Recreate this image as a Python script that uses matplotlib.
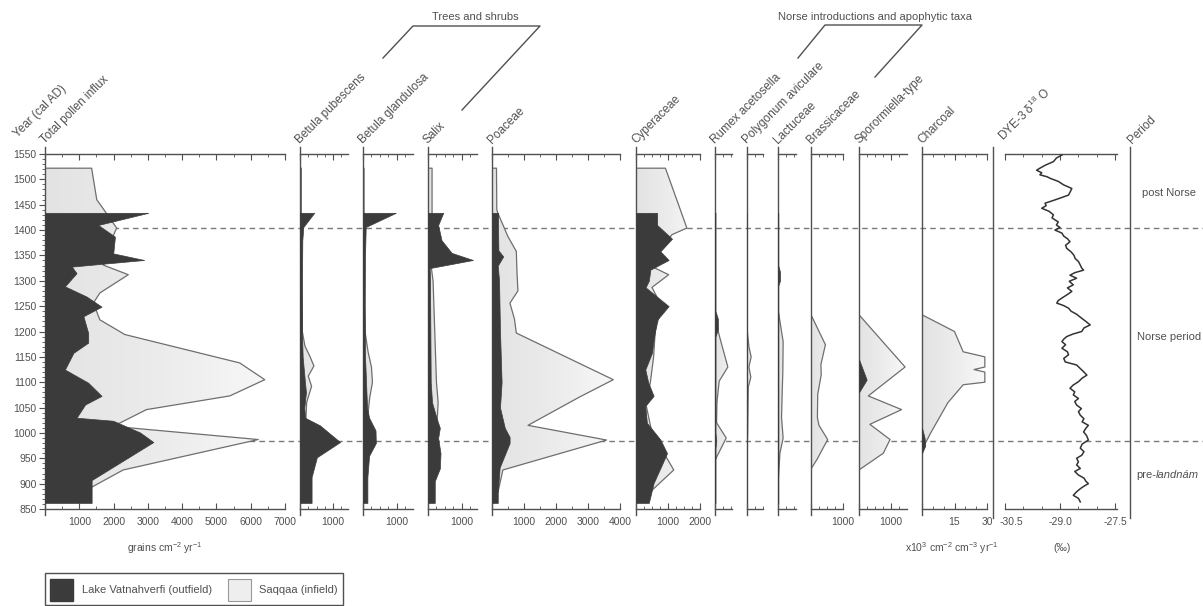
import numpy as np
import matplotlib
matplotlib.use("Agg")
import matplotlib.pyplot as plt
import matplotlib.transforms as mtransforms
from matplotlib.colors import LinearSegmentedColormap
from matplotlib.patches import Rectangle

plt.rcParams['font.family'] = ['Liberation Sans', 'DejaVu Sans']
plt.rcParams['mathtext.fontset'] = 'custom'
plt.rcParams['mathtext.rm'] = 'Liberation Sans'
plt.rcParams['mathtext.it'] = 'Liberation Sans:italic'

# Lake Vatnahverfi (outfield) = vat, Saqqaa (infield) = saq
total_vat_yr = [1434, 1410, 1387, 1354, 1341, 1328, 1315, 1289, 1269, 1249, 1230, 1197,
                1178, 1158, 1125, 1099, 1073, 1056, 1030, 1024, 1001, 982, 907, 862]
total_vat = [3010, 1550, 2040, 1990, 2890, 780, 920, 580, 1210, 1650, 1120, 1260,
             1260, 830, 580, 1260, 1650, 1170, 920, 1990, 2770, 3160, 1360, 1360]
total_saq_yr = [1522, 1460, 1437, 1404, 1381, 1354, 1331, 1312, 1276, 1256, 1223, 1194,
                1138, 1105, 1073, 1046, 1013, 987, 927, 893]
total_saq = [1360, 1510, 1750, 2090, 1940, 1940, 1700, 2430, 1600, 1410, 1600, 2330,
             5680, 6410, 5390, 2960, 1990, 6220, 2280, 1360]

bpub_vat_yr = [1434, 1406, 1380, 1300, 1200, 1150, 1100, 1080, 1050, 1030, 1015, 982, 952, 913, 862]
bpub_vat = [430, 100, 70, 60, 60, 80, 150, 180, 130, 150, 600, 1210, 510, 350, 350]
bpub_saq_yr = [1522, 1440, 1400, 1300, 1200, 1171, 1151, 1132, 1112, 1092, 1060, 1030, 990, 950, 900, 885]
bpub_saq = [40, 40, 40, 50, 70, 150, 300, 420, 250, 350, 200, 180, 150, 120, 100, 80]

bgla_vat_yr = [1434, 1406, 1350, 1250, 1150, 1100, 1050, 1030, 1005, 980, 955, 913, 862]
bgla_vat = [970, 80, 60, 50, 60, 90, 120, 180, 370, 380, 180, 130, 130]
bgla_saq_yr = [1522, 1440, 1300, 1200, 1160, 1130, 1100, 1070, 1040, 950, 885]
bgla_saq = [30, 30, 40, 60, 150, 250, 280, 200, 150, 100, 80]

salix_vat_yr = [1434, 1410, 1380, 1355, 1341, 1325, 1300, 1200, 1100, 1060, 1030, 1010,
                990, 960, 930, 905, 862]
salix_vat = [450, 300, 400, 700, 1330, 50, 60, 70, 80, 120, 250, 350, 300, 370, 350, 200, 200]
salix_saq_yr = [1522, 1434, 1400, 1325, 1300, 1200, 1100, 1060, 1000, 950, 885]
salix_saq = [120, 120, 120, 100, 150, 200, 250, 300, 250, 200, 150]

poa_vat_yr = [1434, 1400, 1360, 1348, 1330, 1300, 1200, 1100, 1050, 1010, 992, 980, 932, 883, 862]
poa_vat = [190, 190, 200, 350, 180, 220, 250, 300, 250, 400, 550, 550, 240, 180, 180]
poa_saq_yr = [1522, 1440, 1434, 1387, 1358, 1318, 1280, 1256, 1225, 1197, 1105, 1071,
              1015, 986, 927, 884]
poa_saq = [140, 150, 180, 500, 760, 780, 810, 560, 700, 760, 3790, 2740, 1125, 3580, 340, 190]

cyp_vat_yr = [1434, 1410, 1383, 1358, 1341, 1322, 1300, 1287, 1250, 1223, 1184, 1158,
              1125, 1100, 1073, 1053, 1020, 987, 960, 901, 862]
cyp_vat = [660, 660, 1125, 760, 1020, 450, 400, 300, 1020, 660, 550, 500,
           290, 380, 550, 290, 340, 760, 970, 550, 400]
cyp_saq_yr = [1522, 1404, 1391, 1331, 1312, 1287, 1250, 1200, 1150, 1125, 1100, 1060,
              1000, 927, 887]
cyp_saq = [920, 1590, 1125, 400, 1020, 500, 800, 600, 550, 500, 450, 300, 500, 1180, 500]

rum_vat_yr = [1434, 1240, 1225, 1205, 1190, 1000, 985, 970, 862]
rum_vat = [15, 15, 90, 90, 15, 15, 40, 15, 15]
rum_saq_yr = [1522, 1235, 1195, 1130, 1102, 1060, 1020, 990, 946]
rum_saq = [10, 10, 120, 400, 130, 60, 50, 350, 0]

pol_vat_yr = [1434, 862]
pol_vat = [10, 10]
pol_saq_yr = [1522, 1200, 1170, 1150, 1130, 1110, 1090, 1000, 960]
pol_saq = [10, 10, 60, 130, 60, 120, 40, 20, 0]

lac_vat_yr = [1434, 1330, 1318, 1300, 1290, 862]
lac_vat = [10, 10, 60, 60, 10, 10]
lac_saq_yr = [1522, 1240, 1180, 1120, 1080, 1030, 990, 960, 900]
lac_saq = [10, 10, 160, 150, 130, 110, 160, 60, 0]

bra_saq_yr = [1233, 1174, 1135, 1115, 1076, 1030, 1015, 987, 948, 929]
bra_saq = [0, 450, 310, 320, 210, 200, 250, 520, 190, 0]

spo_vat_yr = [1145, 1105, 1080]
spo_vat = [0, 240, 0]
spo_saq_yr = [1233, 1130, 1073, 1046, 1017, 987, 960, 927]
spo_saq = [0, 1440, 290, 1330, 340, 970, 760, 0]

cha_vat_yr = [1010, 990, 975, 960]
cha_vat = [0, 1.2, 1.5, 0]
cha_saq_yr = [1233, 1200, 1160, 1150, 1130, 1125, 1120, 1100, 1095, 1060, 1000, 975, 965]
cha_saq = [0, 15, 19, 29, 29, 24, 29, 29, 19, 12, 4, 1, 0]

dye_yr = [1548, 1542, 1535, 1528, 1522, 1518, 1513, 1509, 1505, 1502, 1496, 1489,
          1482, 1476, 1469, 1463, 1458, 1453, 1448, 1443, 1437, 1430, 1424, 1416,
          1410, 1405, 1400, 1394, 1388, 1383, 1377, 1370, 1364, 1357, 1350, 1344,
          1338, 1331, 1325, 1321, 1316, 1311, 1305, 1299, 1292, 1286, 1279, 1272,
          1266, 1261, 1256, 1251, 1246, 1240, 1234, 1226, 1220, 1213, 1207, 1200,
          1195, 1190, 1185, 1180, 1174, 1167, 1160, 1154, 1147, 1140, 1134, 1127,
          1120, 1114, 1108, 1101, 1094, 1088, 1081, 1075, 1068, 1062, 1055, 1048,
          1042, 1035, 1028, 1022, 1015, 1009, 1002, 995, 986, 978, 970, 963,
          956, 950, 943, 937, 930, 924, 917, 911, 905, 900, 895, 890,
          884, 877, 871, 864]
dye = [-28.95, -29.10, -29.18, -29.40, -29.55, -29.64, -29.50, -29.55, -29.35, -29.27, -29.05, -28.90,
       -28.68, -28.72, -28.77, -29.00, -29.20, -29.41, -29.38, -29.50, -29.30, -29.18, -29.22, -29.05,
       -29.10, -29.00, -29.14, -28.95, -28.90, -28.80, -28.73, -28.85, -28.82, -28.70, -28.62, -28.59,
       -28.50, -28.45, -28.41, -28.36, -28.60, -28.73, -28.55, -28.75, -28.64, -28.80, -28.68, -28.82,
       -28.95, -29.05, -29.09, -28.90, -28.77, -28.70, -28.55, -28.41, -28.30, -28.18, -28.35, -28.41,
       -28.65, -28.82, -28.90, -28.95, -28.85, -28.95, -28.80, -28.77, -28.90, -28.86, -28.55, -28.45,
       -28.35, -28.27, -28.40, -28.50, -28.65, -28.73, -28.60, -28.64, -28.50, -28.60, -28.55, -28.42,
       -28.50, -28.45, -28.35, -28.40, -28.23, -28.30, -28.36, -28.28, -28.23, -28.40, -28.45, -28.35,
       -28.41, -28.55, -28.50, -28.55, -28.45, -28.60, -28.50, -28.35, -28.30, -28.23, -28.35, -28.45,
       -28.55, -28.64, -28.50, -28.45]

year_ticks = list(range(850, 1551, 50))
zone_lines = [1405, 985]

INK = '#505050'
DARK = '#3b3b3b'
EDGE = '#6e6e6e'
W, H = 1203, 606
Y_BOT, Y_TOP = 838, 1563
PX_TOP, PX_BOT = 147.4, 515.1

fig = plt.figure(figsize=(W / 100, H / 100), dpi=100)
cmap = LinearSegmentedColormap.from_list('saq', ['#e3e3e3', '#ececec', '#f9f9f9'])
grad = np.linspace(0, 1, 256).reshape(1, -1)

def px_axes(left, right):
    return fig.add_axes([left / W, (H - PX_BOT) / H, (right - left) / W, (PX_BOT - PX_TOP) / H])

# dashed zone lines behind everything
bg = px_axes(0, W)
bg.set_zorder(-1)
bg.set_xlim(0, W)
bg.set_ylim(Y_BOT, Y_TOP)
bg.axis('off')
bg.hlines(zone_lines, 45, W, colors='#7a7a7a', linestyles=(0, (4, 3)), lw=1)

def panel(left, right, xmin, xmax, vat, saq, major, labels, minor, first=False):
    ax = px_axes(left, right)
    ax.set_facecolor('none')
    if saq is not None:
        poly = ax.fill_betweenx(saq[0], 0, saq[1], facecolor='none', edgecolor=EDGE, lw=0.9, zorder=2)
        im = ax.imshow(grad, extent=[0, xmax, Y_BOT, Y_TOP], aspect='auto', cmap=cmap, zorder=1)
        im.set_clip_path(poly.get_paths()[0], transform=ax.transData)
    if vat is not None:
        ax.fill_betweenx(vat[0], 0, vat[1], facecolor=DARK, edgecolor=DARK, lw=0.5, zorder=3)
    ax.set_xlim(xmin, xmax)
    ax.set_ylim(Y_BOT, Y_TOP)
    ax.spines['top'].set_position(('data', 1550))
    ax.spines['bottom'].set_position(('data', 850))
    ax.spines['right'].set_visible(False)
    for s in ['top', 'bottom', 'left']:
        ax.spines[s].set_color(INK)
        ax.spines[s].set_linewidth(1)
    ax.set_xticks(major)
    ax.set_xticklabels(labels)
    ax.set_xticks(minor, minor=True)
    ax.tick_params(axis='x', which='both', direction='in', top=True, bottom=True,
                   colors=INK, labelsize=7.5, pad=6)
    ax.tick_params(axis='x', which='major', length=4)
    ax.tick_params(axis='x', which='minor', length=2.5)
    if first:
        ax.set_yticks(year_ticks)
        ax.set_yticklabels([str(y) for y in year_ticks])
        ax.set_yticks(range(850, 1551, 10), minor=True)
        ax.tick_params(axis='y', which='both', direction='out', colors=INK, labelsize=7.5, pad=2)
        ax.tick_params(axis='y', which='major', length=4)
        ax.tick_params(axis='y', which='minor', length=2)
    else:
        ax.set_yticks([])
    return ax

panel(45, 285, 0, 7000, (total_vat_yr, total_vat), (total_saq_yr, total_saq),
      range(0, 7001, 1000), [''] + [str(v) for v in range(1000, 7001, 1000)],
      range(500, 7000, 1000), first=True)
panel(300, 348, 0, 1450, (bpub_vat_yr, bpub_vat), (bpub_saq_yr, bpub_saq),
      [0, 1000], ['', '1000'], [250, 500, 750, 1250])
panel(363, 413, 0, 1480, (bgla_vat_yr, bgla_vat), (bgla_saq_yr, bgla_saq),
      [0, 1000], ['', '1000'], [250, 500, 750, 1250])
panel(428, 477, 0, 1450, (salix_vat_yr, salix_vat), (salix_saq_yr, salix_saq),
      [0, 1000], ['', '1000'], [250, 500, 750, 1250])
panel(492, 620, 0, 4000, (poa_vat_yr, poa_vat), (poa_saq_yr, poa_saq),
      range(0, 4001, 1000), ['', '1000', '2000', '3000', '4000'], range(500, 4000, 500))
panel(636, 700, 0, 2000, (cyp_vat_yr, cyp_vat), (cyp_saq_yr, cyp_saq),
      [0, 1000, 2000], ['', '1000', '2000'], range(250, 2000, 250))
panel(715, 732, 0, 530, (rum_vat_yr, rum_vat), (rum_saq_yr, rum_saq), [0], [''], [250, 500])
panel(747, 763, 0, 500, (pol_vat_yr, pol_vat), (pol_saq_yr, pol_saq), [0], [''], [250, 500])
panel(778, 796, 0, 560, (lac_vat_yr, lac_vat), (lac_saq_yr, lac_saq), [0], [''], [250, 500])
panel(811, 843, 0, 1000, None, (bra_saq_yr, bra_saq), [0, 1000], ['', '1000'], [250, 500, 750])
panel(859, 907, 0, 1500, (spo_vat_yr, spo_vat), (spo_saq_yr, spo_saq),
      [0, 1000], ['', '1000'], [250, 500, 750, 1250])
panel(922, 987, 0, 30, (cha_vat_yr, cha_vat), (cha_saq_yr, cha_saq),
      [0, 15, 30], ['', '15', '30'], [5, 10, 20, 25])
ax_dye = panel(1005, 1117, -30.5, -27.45, None, None,
               [-30.5, -29.0, -27.5], ['-30.5', '-29.0', '-27.5'], [-30.0, -29.5, -28.5, -28.0])
ax_dye.spines['left'].set_visible(False)
ax_dye.plot(dye, dye_yr, color='#333333', lw=1.1, zorder=3)
# nudge the -30.5 label right so it clears the charcoal "30"
lab0 = ax_dye.get_xticklabels()[0]
lab0.set_transform(lab0.get_transform() + mtransforms.ScaledTranslation(6 / 100, 0, fig.dpi_scale_trans))

# decorations in pixel coordinates
ov = fig.add_axes([0, 0, 1, 1])
ov.set_xlim(0, W)
ov.set_ylim(H, 0)
ov.axis('off')

top_labels = [(20, 140, 'Year (cal AD)'), (47, 146, 'Total pollen influx'),
              (302, 146, 'Betula pubescens'), (365, 146, 'Betula glandulosa'),
              (430, 146, 'Salix'), (494, 146, 'Poaceae'), (638, 146, 'Cyperaceae'),
              (717, 146, 'Rumex acetosella'), (749, 146, 'Polygonum aviculare'),
              (780, 146, 'Lactuceae'), (813, 146, 'Brassicaceae'),
              (861, 146, 'Sporormiella-type'), (924, 146, 'Charcoal'),
              (1006, 144, r'DYE-3 δ$^{18}$ O'), (1134, 146, 'Period')]
for x, y, s in top_labels:
    ov.text(x, y, s, rotation=45, ha='left', va='bottom', rotation_mode='anchor',
            fontsize=8.5, color=INK)

ov.plot([383, 413, 540, 462], [58, 26, 26, 110], color=INK, lw=1)
ov.text(475, 17, 'Trees and shrubs', ha='center', va='center', fontsize=8, color=INK)
ov.plot([798, 825, 922, 875], [58, 25, 25, 77], color=INK, lw=1)
ov.text(875, 17, 'Norse introductions and apophytic taxa', ha='center', va='center',
        fontsize=8, color=INK)

ov.plot([993, 993], [147, 518], color=INK, lw=1)
ov.plot([1130, 1130], [147, 518], color=INK, lw=1)
ov.text(1142, 193, 'post Norse', ha='left', va='center', fontsize=8, color=INK)
ov.text(1137, 337, 'Norse period', ha='left', va='center', fontsize=8, color=INK)
ov.text(1136, 475, 'pre-', ha='left', va='center', fontsize=8, color=INK)
ov.text(1155.5, 475, 'landnám', ha='left', va='center', fontsize=8, color=INK, style='italic')

ov.text(165, 548, r'grains cm$^{-2}$ yr$^{-1}$', ha='center', va='center', fontsize=7.5, color=INK)
ov.text(952, 548, r'x10$^{3}$ cm$^{-2}$ cm$^{-3}$ yr$^{-1}$', ha='center', va='center',
        fontsize=7.5, color=INK)
ov.text(1062, 548, '(‰)', ha='center', va='center', fontsize=7.5, color=INK)

# legend
ov.add_patch(Rectangle((45, 573), 298, 32, fill=False, edgecolor=INK, lw=1))
ov.add_patch(Rectangle((50, 579), 23, 22, facecolor=DARK, edgecolor=DARK))
ov.add_patch(Rectangle((228, 579), 23, 22, facecolor='#eeeeee', edgecolor='#999999', lw=0.8))
ov.text(82, 590, 'Lake Vatnahverfi (outfield)', ha='left', va='center', fontsize=8, color=INK)
ov.text(259, 590, 'Saqqaa (infield)', ha='left', va='center', fontsize=8, color=INK)

fig.savefig('out.png', dpi=100)
